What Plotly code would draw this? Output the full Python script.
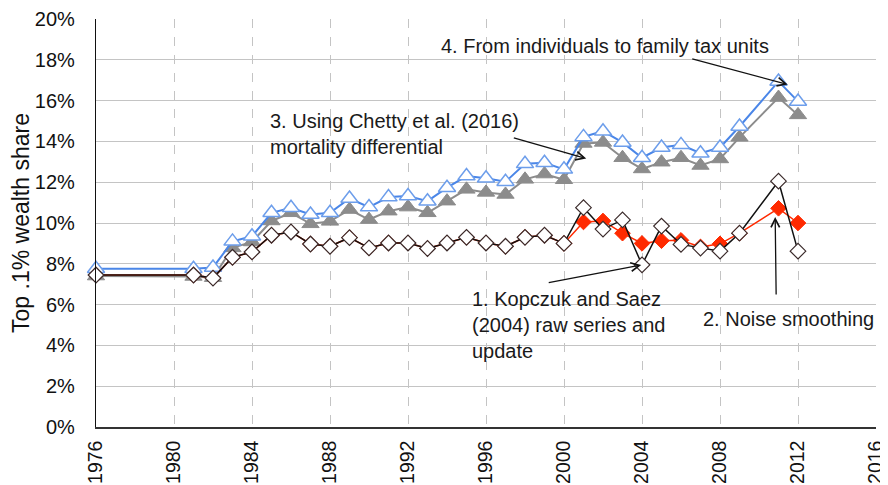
import plotly.graph_objects as go

years = [1976, 1981, 1982, 1983, 1984, 1985, 1986, 1987, 1988, 1989, 1990,
         1991, 1992, 1993, 1994, 1995, 1996, 1997, 1998, 1999, 2000,
         2001, 2002, 2003, 2004, 2005, 2006, 2007, 2008, 2009, 2011, 2012]

# 1. Kopczuk and Saez raw series (top .1% wealth share, %)
raw = [7.45, 7.45, 7.3, 8.32, 8.58, 9.4, 9.56, 8.97, 8.86, 9.28, 8.78,
       9.02, 9.02, 8.75, 9.02, 9.3, 9.02, 8.86, 9.3, 9.4, 9.0,
       10.75, 9.7, 10.15, 7.95, 9.85, 8.95, 8.77, 8.62, 9.5, 12.05, 8.62]

# 2. noise smoothing
smoothed = [7.45, 7.45, 7.3, 8.32, 8.58, 9.4, 9.56, 8.97, 8.86, 9.28, 8.78,
            9.02, 9.02, 8.75, 9.02, 9.3, 9.02, 8.86, 9.3, 9.4, 9.0,
            10.05, 10.1, 9.5, 9.0, 9.13, 9.15, 8.83, 8.98, 9.5, 10.72, 10.0]

# 3. mortality differential
mortality = [7.4, 7.38, 7.32, 8.78, 9.07, 10.1, 10.5, 9.96, 10.08, 10.66, 10.17,
             10.58, 10.78, 10.5, 11.07, 11.65, 11.5, 11.4, 12.14, 12.4, 12.12,
             13.9, 13.95, 13.2, 12.65, 12.98, 13.2, 12.82, 13.14, 14.2, 16.15, 15.3]

# 4. family tax units
family = [7.76, 7.76, 7.82, 9.1, 9.35, 10.5, 10.75, 10.42, 10.5, 11.2, 10.78,
          11.27, 11.32, 11.07, 11.73, 12.3, 12.19, 12.02, 12.9, 12.95, 12.63,
          14.22, 14.5, 13.95, 13.2, 13.7, 13.83, 13.42, 13.7, 14.73, 16.94, 15.96]

x_ticks = list(range(1976, 2017, 4))
y_ticks = list(range(0, 21, 2))
y_labels = [f"{v}%" for v in y_ticks]

FONT = "Liberation Sans, Arial, sans-serif"

fig = go.Figure()

fig.add_trace(go.Scatter(
    x=years, y=mortality, mode="lines+markers", cliponaxis=False,
    line=dict(color="#8c8c8c", width=2),
    marker=dict(symbol="triangle-up", size=15, color="#8c8c8c",
                line=dict(color="#8c8c8c", width=1))))

fig.add_trace(go.Scatter(
    x=years, y=family, mode="lines+markers", cliponaxis=False,
    line=dict(color="#4a86e8", width=2),
    marker=dict(symbol="triangle-up", size=15, color="white",
                line=dict(color="#6d9eeb", width=1.5))))

fig.add_trace(go.Scatter(
    x=years, y=smoothed, mode="lines+markers", cliponaxis=False,
    line=dict(color="#ff2a00", width=1.5),
    marker=dict(symbol="diamond", size=12, color="#ff2a00",
                line=dict(color="#ff2a00", width=1))))

fig.add_trace(go.Scatter(
    x=years, y=raw, mode="lines+markers", cliponaxis=False,
    line=dict(color="#111111", width=1.5),
    marker=dict(symbol="diamond", size=12, color="white",
                line=dict(color="#3a2a2a", width=1.2))))

texts = [
    ("4. From individuals to family tax units", 1993.6, 18.7),
    ("3. Using Chetty et al. (2016)<br>mortality differential", 1984.8, 14.36),
    ("1. Kopczuk and Saez<br>(2004) raw series and<br>update", 1995.2, 5.02),
    ("2. Noise smoothing", 2007.04, 5.29),
]
for t, tx, ty in texts:
    fig.add_annotation(x=tx, y=ty, text=t, showarrow=False, xanchor="left",
                       yanchor="middle", align="left",
                       font=dict(family=FONT, size=20, color="#1a1a1a"))

arrows = [
    ((2006.5, 18.07), (2011.47, 16.79)),
    ((1997.35, 14.19), (2001.14, 13.16)),
    ((1999.14, 7.06), (2003.96, 7.94)),
    ((2010.88, 6.42), (2010.83, 10.3)),
]
for (tx, ty), (hx, hy) in arrows:
    fig.add_annotation(x=hx, y=hy, ax=tx, ay=ty, axref="x", ayref="y",
                       text="", showarrow=True, arrowhead=5, arrowsize=1.3,
                       arrowwidth=1.3, arrowcolor="#111111")

# page body keeps its default 8px margin, so the figure is 8px smaller
fig.update_layout(
    width=880, height=477,
    margin=dict(l=88, r=12, t=11, b=58),
    paper_bgcolor="white", plot_bgcolor="white",
    showlegend=False,
    font=dict(family=FONT, size=18, color="#111111"),
)

fig.update_xaxes(
    range=[1976, 2016], tickvals=x_ticks, tickangle=-90, automargin=False,
    showgrid=True, gridcolor="#c4c4c4", griddash="dash", gridwidth=1,
    showline=True, linecolor="#333333", linewidth=1.5,
    ticks="", ticklabelstandoff=4, zeroline=False,
    tickfont=dict(size=19.5),
)
fig.update_yaxes(
    range=[0, 20], tickvals=y_ticks, ticktext=y_labels, automargin=False,
    showgrid=True, gridcolor="#c4c4c4", gridwidth=1.2,
    showline=True, linecolor="#111111", linewidth=1.2,
    ticks="", ticklabelstandoff=16, zeroline=False,
    tickfont=dict(size=20),
    title=dict(text="Top .1% wealth share", font=dict(size=23), standoff=8),
)

fig.write_html("out.html")
